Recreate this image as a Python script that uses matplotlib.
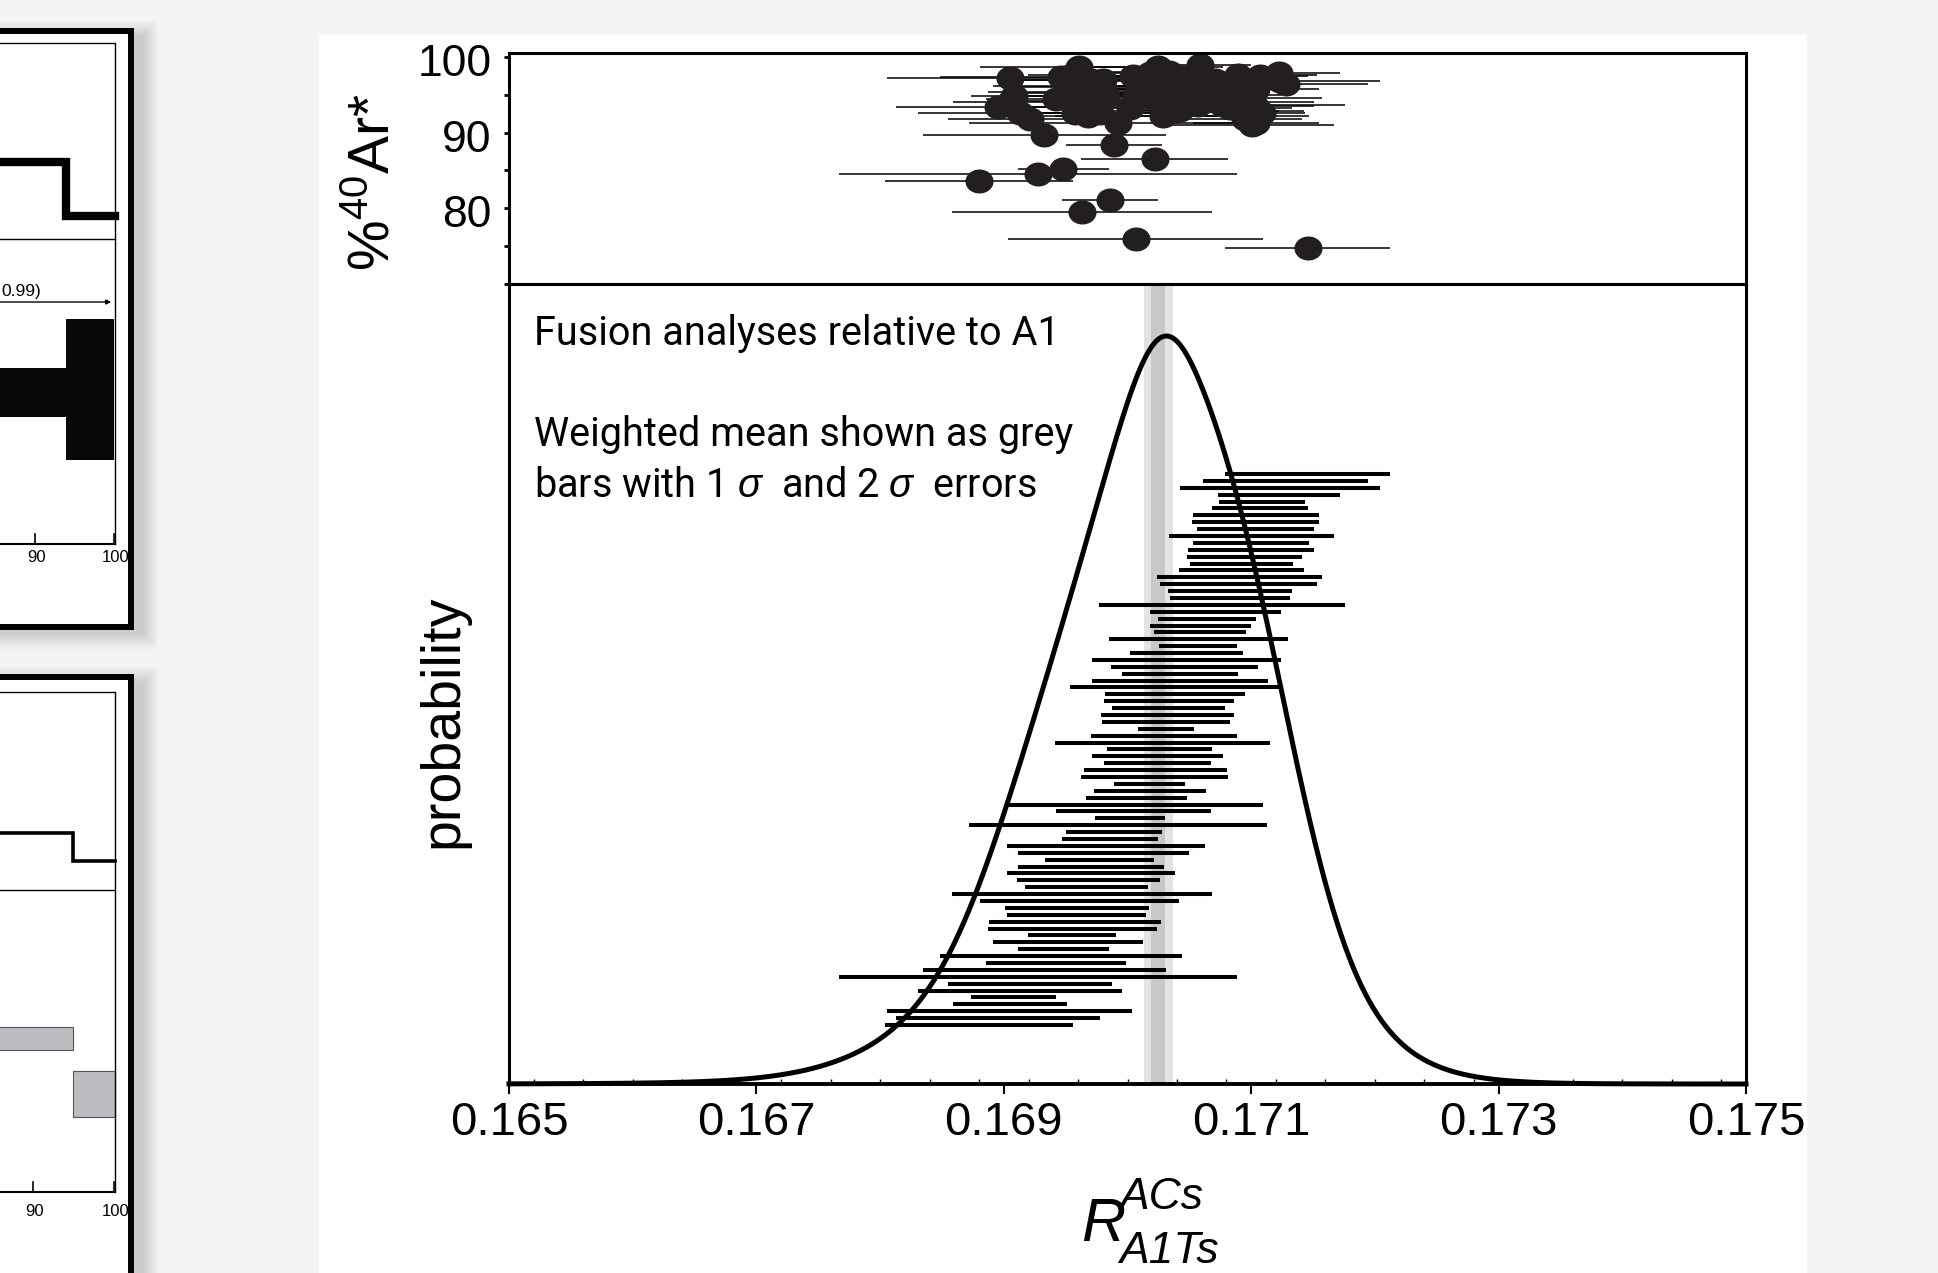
import numpy as np
import matplotlib.pyplot as plt
from matplotlib.patches import Rectangle
from matplotlib.markers import MarkerStyle
from matplotlib.transforms import Affine2D, ScaledTranslation
from matplotlib.ticker import MultipleLocator, FixedLocator

plt.rcParams['font.family'] = ['Liberation Sans', 'DejaVu Sans']
plt.rcParams['mathtext.fontset'] = 'custom'
plt.rcParams['mathtext.rm'] = 'Liberation Sans'
plt.rcParams['mathtext.it'] = 'Liberation Sans:italic'

# fusion analyses, listed from the highest ranked value down to the lowest
ratio = [0.171458, 0.171279, 0.171234, 0.171224, 0.171090, 0.171073, 0.171037, 0.171035,
         0.171034, 0.171003, 0.171000, 0.170998, 0.170947, 0.170925, 0.170922, 0.170906,
         0.170897, 0.170830, 0.170830, 0.170763, 0.170711, 0.170646, 0.170590, 0.170585,
         0.170576, 0.170569, 0.170479, 0.170477, 0.170457, 0.170426, 0.170426, 0.170381,
         0.170384, 0.170336, 0.170332, 0.170323, 0.170311, 0.170311, 0.170297, 0.170284,
         0.170258, 0.170244, 0.170244, 0.170228, 0.170219, 0.170181, 0.170180, 0.170072,
         0.170066, 0.170046, 0.170019, 0.169924, 0.169890, 0.169860, 0.169827, 0.169804,
         0.169774, 0.169704, 0.169704, 0.169681, 0.169671, 0.169634, 0.169611, 0.169590,
         0.169589, 0.169576, 0.169558, 0.169551, 0.169519, 0.169480, 0.169461, 0.169420,
         0.169328, 0.169277, 0.169213, 0.169130, 0.169079, 0.169051, 0.169048, 0.168953,
         0.168798]
# 1 sigma errors
ratio_err = [0.000666, 0.000667, 0.000806, 0.000494, 0.000348, 0.000387, 0.000510, 0.000514,
             0.000472, 0.000669, 0.000469, 0.000508, 0.000463, 0.000416, 0.000504, 0.000666,
             0.000635, 0.000502, 0.000483, 0.000993, 0.000527, 0.000396, 0.000405, 0.000369,
             0.000722, 0.000313, 0.000457, 0.000764, 0.000594, 0.000469, 0.000709, 0.000845,
             0.000567, 0.000522, 0.000457, 0.000535, 0.000516, 0.000229, 0.000592, 0.000870,
             0.000426, 0.000527, 0.000430, 0.000580, 0.000596, 0.000287, 0.000454, 0.000408,
             0.001029, 0.000628, 0.000281, 0.001202, 0.000385, 0.000387, 0.000803, 0.000692,
             0.000444, 0.000589, 0.000680, 0.000578, 0.000497, 0.001049, 0.000804, 0.000582,
             0.000564, 0.000698, 0.000683, 0.000352, 0.000610, 0.000368, 0.000979, 0.000567,
             0.000984, 0.001609, 0.000663, 0.000826, 0.000345, 0.000460, 0.000990, 0.000826,
             0.000759]
# radiogenic argon content (%40Ar*)
ar40 = [74.8, 96.4, 96.8, 97.9, 92.6, 97.4, 91.3, 95.7,
        93.5, 91.0, 92.2, 94.0, 91.8, 96.8, 92.9, 94.6,
        97.6, 93.2, 96.0, 93.6, 97.0, 94.2, 98.9, 96.3,
        95.7, 93.6, 96.9, 94.9, 95.8, 93.0, 97.5, 92.9,
        97.0, 95.2, 98.0, 93.8, 96.2, 94.4, 97.4, 92.2,
        93.9, 98.7, 95.6, 96.8, 86.5, 94.7, 97.9, 95.0,
        75.9, 97.4, 93.2, 91.3, 88.4, 81.1, 94.8, 96.9,
        92.6, 97.0, 94.2, 92.2, 95.2, 79.5, 98.7, 96.0,
        93.4, 92.6, 95.3, 97.6, 96.2, 85.2, 97.3, 94.4,
        89.7, 84.5, 91.8, 92.6, 94.8, 94.0, 97.2, 93.4,
        83.6]

wmean = 0.17025
wmean_err = 0.000057

xticks = [0.165, 0.167, 0.169, 0.171, 0.173, 0.175]
ar_ticks = [80, 90, 100]

W, H = 1938, 1273
fig = plt.figure(figsize=(W / 100, H / 100), dpi=100, facecolor='#f4f4f4')

# page behind the figure: white sheet plus the edges of the neighbouring panels
bg = fig.add_axes([0, 0, 1, 1])
bg.set_xlim(0, W)
bg.set_ylim(H, 0)
bg.axis('off')
bg.add_patch(Rectangle((319, 35), 1488, 1260, fc='white', lw=0))


def side_box(top, bottom):
    for g in range(16, 0, -2):
        bg.add_patch(Rectangle((-40, top - g + 6), 176 + g + 6, bottom - top + 2 * g,
                               fc='k', alpha=0.018, lw=0))
    bg.add_patch(Rectangle((-40, top), 171, bottom - top, fc='white', ec='black', lw=4.3))


side_box(31, 627)
bg.plot([-5, 115, 115], [43, 43, 544], color='k', lw=1)
bg.plot([-5, 115], [239, 239], color='k', lw=1)
bg.plot([-5, 115], [544, 544], color='k', lw=1.5)
bg.plot([-5, 66, 66, 115], [162, 162, 216, 216], color='k', lw=6, solid_joinstyle='miter')
bg.text(41, 296, '0.99)', fontsize=12.5, ha='right', va='baseline')
bg.annotate('', xy=(114, 302), xytext=(-5, 302),
            arrowprops=dict(arrowstyle='-|>', lw=1, color='k', mutation_scale=7))
bg.add_patch(Rectangle((-40, 368), 106, 49, fc='#080808', lw=0))
bg.add_patch(Rectangle((66, 319), 48, 141, fc='#080808', lw=0))
for tx, tl in [(35, '90'), (114, '100')]:
    bg.plot([tx, tx], [534, 544], color='k', lw=1.2)
    bg.text(tx + 2, 557, tl, fontsize=12, ha='center', va='center')

side_box(677, 1320)
bg.plot([-5, 115, 115], [692, 692, 1192], color='k', lw=1)
bg.plot([-5, 115], [890, 890], color='k', lw=1)
bg.plot([-5, 115], [1192, 1192], color='k', lw=1.5)
bg.plot([-5, 73, 73, 115], [833, 833, 861, 861], color='k', lw=2.6, solid_joinstyle='miter')
bg.add_patch(Rectangle((-40, 1027), 113, 23, fc='#bcbdc0', ec='#555555', lw=0.8))
bg.add_patch(Rectangle((73, 1071), 42, 46, fc='#bcbdc0', ec='#555555', lw=0.8))
for tx, tl in [(33, '90'), (114, '100')]:
    bg.plot([tx, tx], [1182, 1192], color='k', lw=1.2)
    bg.text(tx + 2, 1212, tl, fontsize=12, ha='center', va='center')

# main figure
left, width = 509 / W, 1237 / W
ax_top = fig.add_axes([left, 1 - 284 / H, width, 231 / H])
ax_bot = fig.add_axes([left, 1 - 1084 / H, width, 800 / H])
for ax in (ax_top, ax_bot):
    ax.set_facecolor('none')
    ax.set_xlim(0.165, 0.175)
    for sp in ax.spines.values():
        sp.set_linewidth(2.2)
ax_bot.spines['bottom'].set_linewidth(2.8)

ratio = np.array(ratio)
ratio_err = np.array(ratio_err)
n = len(ratio)
rank = np.arange(n)[::-1]

# upper panel: %40Ar* against the ratio
ellipse = MarkerStyle('o', transform=Affine2D().scale(1.17, 1.0))
ax_top.errorbar(ratio, ar40, xerr=ratio_err, fmt='none', ecolor='black',
                elinewidth=1.1, capsize=0)
ax_top.plot(ratio, ar40, ls='none', marker=ellipse, ms=17.3, mfc='#231f20',
            mew=0, clip_on=False)
ax_top.set_ylim(70, 100.5)
ax_top.set_xticks([])
ax_top.yaxis.set_major_locator(FixedLocator(ar_ticks))
ax_top.yaxis.set_minor_locator(FixedLocator([70, 75, 85, 95]))
ax_top.tick_params(axis='y', which='both', direction='out', length=3.6, width=2,
                   labelsize=32, pad=9)
shift = ScaledTranslation(0, -3 / 100, fig.dpi_scale_trans)
for lab in ax_top.get_yticklabels():
    lab.set_transform(lab.get_transform() + shift)

# lower panel: cumulative probability, weighted mean and ranked analyses
ax_bot.axvspan(wmean - 2 * wmean_err, wmean + 2 * wmean_err, color='#e3e3e5', lw=0, zorder=0)
ax_bot.axvspan(wmean - wmean_err, wmean + wmean_err, color='#c8c8ca', lw=0, zorder=0)

xs = np.linspace(0.165, 0.175, 1201)
dens = np.zeros_like(xs)
for c, s in zip(ratio, ratio_err):
    dens += np.exp(-0.5 * ((xs - c) / s) ** 2) / (s * np.sqrt(2 * np.pi))
ax_bot.plot(xs, dens, color='black', lw=3.6, clip_on=False, zorder=3)
ax_bot.set_ylim(0, dens.max() / 0.935)
ax_bot.set_yticks([])

ax_bot.set_xticks(xticks)
ax_bot.set_xticklabels([f'{t:.3f}' for t in xticks])
ax_bot.xaxis.set_minor_locator(MultipleLocator(0.0004))
ax_bot.tick_params(axis='x', which='major', direction='out', length=7, width=1.5,
                   labelsize=34, pad=5)
ax_bot.tick_params(axis='x', which='minor', direction='in', length=3.6, width=1)

ax_bar = ax_bot.twinx()
ax_bar.set_ylim(-8.566, 107.58)
ax_bar.axis('off')
ax_bar.hlines(rank, ratio - ratio_err, ratio + ratio_err, color='black', lw=2.9,
              capstyle='butt')

txt = dict(transform=ax_bot.transAxes, fontsize=28.5, family=['Roboto', 'DejaVu Sans'],
           va='center', ha='left')
ax_bot.text(0.0202, 0.9380, 'Fusion analyses relative to A1', **txt)
ax_bot.text(0.0202, 0.8118, 'Weighted mean shown as grey', **txt)
ax_bot.text(0.0202, 0.7480, r'bars with 1 $\sigma$  and 2 $\sigma$  errors', **txt)

fig.text(374 / W, 1 - 182 / H, r'%$^{40}$Ar*', rotation=90, fontsize=41,
         ha='center', va='center')
fig.text(443 / W, 1 - 721 / H, 'probability', rotation=90, fontsize=40,
         ha='center', va='center')

# axis title R with stacked super- and subscript
fig.text(1081 / W, 1 - 1241 / H, 'R', fontsize=44, style='italic',
         ha='left', va='baseline')
fig.text(1119 / W, 1 - 1209 / H, 'ACs', fontsize=32, style='italic',
         ha='left', va='baseline')
fig.text(1119 / W, 1 - 1263 / H, 'A1Ts', fontsize=32, style='italic',
         ha='left', va='baseline')

fig.savefig('out.png', dpi=100, facecolor=fig.get_facecolor())
